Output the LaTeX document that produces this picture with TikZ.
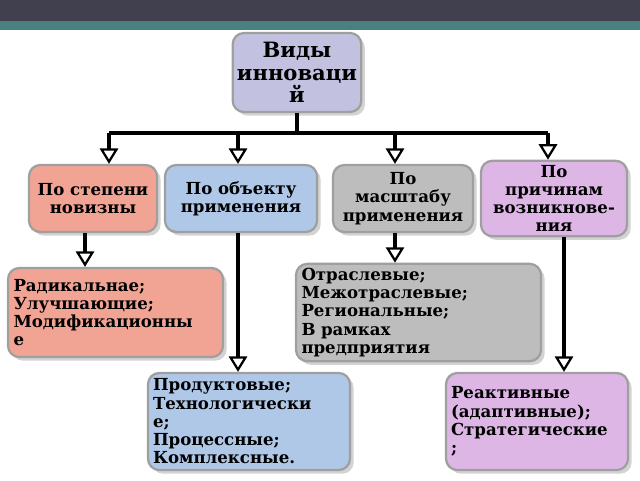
\documentclass[tikz,border=0pt]{standalone}
\usepackage{fontspec}
\setmainfont{DejaVu Serif}
\usetikzlibrary{arrows.meta, positioning, shadows}
\definecolor{banner}{HTML}{40404F}
\definecolor{teal}{HTML}{4A8080}
\definecolor{salmon}{HTML}{F2A494}
\definecolor{sky}{HTML}{B0C8E8}
\definecolor{greybox}{HTML}{BDBDBD}
\definecolor{violet}{HTML}{DDB6E6}
\definecolor{lavender}{HTML}{C2C2E0}
\tikzset{
  box/.style={draw=gray!75, line width=1.6pt, rounded corners=8pt, drop shadow={opacity=0.35},
    font=\bfseries\fontsize{11.8}{13}\selectfont, inner sep=3pt},
  cat/.style={box, align=center},
  list/.style={box, align=left},
  link/.style={line width=2.2pt, -{Triangle[open, length=11pt, width=13pt, line width=1.6pt]}},
}
\begin{document}
\begin{tikzpicture}
  \useasboundingbox (0,0) rectangle (16,12);
  % slide header
  \fill[banner] (0,11.475) rectangle (16,12);
  \fill[teal] (0,11.25) rectangle (16,11.475);
  \fill[white] (0,11.2) rectangle (16,11.25);

  \node[cat, fill=lavender, minimum width=3cm, minimum height=1.975cm,
        font=\bfseries\fontsize{15}{16}\selectfont] (kinds) at (7.425,10.1875) {Виды\\инноваци\\й};

  \node[cat, fill=salmon, minimum width=3.2cm, minimum height=1.675cm] (novelty) at (2.325,7.0375) {По степени\\новизны};
  \node[cat, fill=sky, minimum width=3.8cm, minimum height=1.675cm] (object) at (6.025,7.0375) {По объекту\\применения};
  \node[cat, fill=greybox, minimum width=3.5cm, minimum height=1.675cm] (scale) at (10.075,7.0375) {По\\масштабу\\применения};
  \node[cat, fill=violet, minimum width=3.65cm, minimum height=1.675cm] (cause) at (13.85,7.0375) {По\\причинам\\возникнове-\\ния};

  \node[list, fill=salmon, minimum width=5.375cm, minimum height=2.225cm, text width=5.1cm] (novlist) at (2.8875,4.1875) {Радикальнае;\\Улучшающие;\\Модификационны\\е};
  \node[list, fill=greybox, minimum width=6.125cm, minimum height=2.225cm, text width=5.85cm] (scalelist) at (10.4625,4.1875) {Отраслевые;\\Межотраслевые;\\Региональные;\\В рамках\\предприятия};
  \node[list, fill=sky, minimum width=5.05cm, minimum height=2.425cm, text width=4.8cm] (objlist) at (6.225,1.4625) {Продуктовые;\\Технологически\\е;\\Процессные;\\Комплексные.};
  \node[list, fill=violet, minimum width=4.55cm, minimum height=2.425cm, text width=4.3cm] (causelist) at (13.425,1.4625) {Реактивные\\(адаптивные);\\Стратегические\\;};

  % branching bar
  \coordinate (b1) at (2.725,8.675);
  \coordinate (b2) at (5.95,8.675);
  \coordinate (b3) at (9.875,8.675);
  \coordinate (b4) at (13.7,8.675);
  \draw[line width=2.2pt] (kinds.south) -- (kinds.south |- b1);
  \draw[line width=2.2pt] (b1) -- (b4);
  \draw[link] (b1) -- (b1 |- novelty.north);
  \draw[link] (b2) -- (b2 |- object.north);
  \draw[link] (b3) -- (b3 |- scale.north);
  \draw[link] (b4) -- (b4 |- cause.north);

  \draw[link] ([xshift=-0.2cm]novelty.south) -- ([xshift=-0.2cm]novelty.south |- novlist.north);
  \draw[link] ([xshift=-0.075cm]object.south) -- ([xshift=-0.075cm]object.south |- objlist.north);
  \draw[link] ([xshift=-0.2cm]scale.south) -- ([xshift=-0.2cm]scale.south |- scalelist.north);
  \draw[link] ([xshift=0.25cm]cause.south) -- ([xshift=0.25cm]cause.south |- causelist.north);
\end{tikzpicture}
\end{document}
